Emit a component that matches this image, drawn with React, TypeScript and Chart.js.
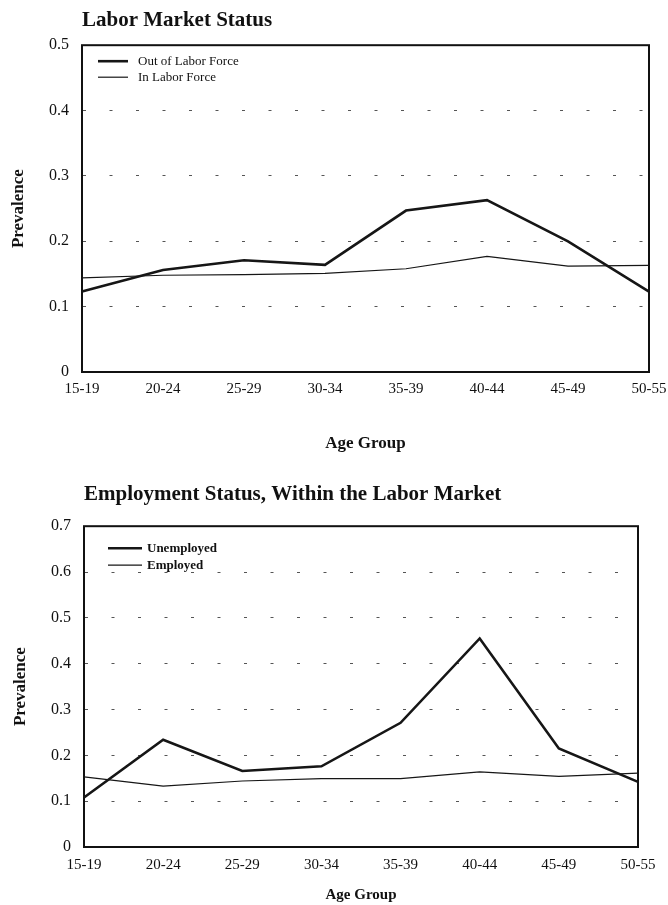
import React, { useEffect, useRef } from "react";
import { Chart, registerables } from "chart.js";

Chart.register(...registerables);

// ---------- data ----------
const ageGroups = ["15-19", "20-24", "25-29", "30-34", "35-39", "40-44", "45-49", "50-55"];

const outOfLaborForce = [0.123, 0.156, 0.171, 0.164, 0.247, 0.263, 0.2, 0.123];
const inLaborForce = [0.144, 0.148, 0.149, 0.151, 0.158, 0.177, 0.162, 0.163];

const unemployed = [0.108, 0.234, 0.166, 0.176, 0.271, 0.455, 0.215, 0.142];
const employed = [0.153, 0.133, 0.144, 0.149, 0.149, 0.164, 0.154, 0.161];

const chart1Title = "Labor Market Status";
const chart2Title = "Employment Status, Within the Labor Market";
const xTitle = "Age Group";
const yTitle = "Prevalence";
const chart1Labels = ["Out of Labor Force", "In Labor Force"];
const chart2Labels = ["Unemployed", "Employed"];
const chart1Max = 0.5;
const chart2Max = 0.7;

const SERIF = "'Liberation Serif', 'DejaVu Serif', serif";

// ---------- plugins ----------
const boxPlugin = {
  id: "plotBox",
  beforeDatasetsDraw(chart: any) {
    const { ctx, chartArea } = chart;
    ctx.save();
    ctx.strokeStyle = "#111";
    ctx.lineWidth = 2;
    ctx.strokeRect(chartArea.left, chartArea.top, chartArea.right - chartArea.left, chartArea.bottom - chartArea.top);
    ctx.restore();
  },
};

const insideLegendPlugin = {
  id: "insideLegend",
  afterDatasetsDraw(chart: any, _args: any, opts: any) {
    const { ctx, chartArea } = chart;
    ctx.save();
    chart.data.datasets.forEach((ds: any, i: number) => {
      const y = chartArea.top + opts.y + i * opts.row;
      const x0 = chartArea.left + opts.x;
      ctx.strokeStyle = ds.borderColor;
      ctx.lineWidth = ds.borderWidth;
      ctx.beginPath();
      ctx.moveTo(x0, y);
      ctx.lineTo(x0 + opts.len, y);
      ctx.stroke();
      ctx.fillStyle = "#111";
      ctx.font = opts.font;
      ctx.textBaseline = "middle";
      ctx.textAlign = "left";
      ctx.fillText(ds.label, x0 + opts.len + opts.gap, y);
    });
    ctx.restore();
  },
};

type Cfg = {
  title: string;
  labels: string[];
  series: number[][];
  max: number;
  height: number;
  titlePad: { top: number; bottom: number };
  rightPad: number;
  yWidth: number;
  xHeight: number;
  xTickSize: number;
  xTickPad: number;
  xTitleSize: number;
  xTitlePadBottom: number;
  yTitlePadTop: number;
  legend: any;
};

function LineBox({ cfg, top }: { cfg: Cfg; top: number }) {
  const ref = useRef<HTMLCanvasElement | null>(null);
  useEffect(() => {
    if (!ref.current) return;
    const widths = [2.6, 1.2];
    const chart = new Chart(ref.current, {
      type: "line",
      data: {
        labels: ageGroups,
        datasets: cfg.series.map((s, i) => ({
          label: cfg.labels[i],
          data: s,
          borderColor: "#161616",
          backgroundColor: "#161616",
          borderWidth: widths[i],
          pointRadius: 0,
          tension: 0,
          fill: false,
        })),
      },
      options: {
        responsive: false,
        animation: false,
        layout: { padding: { left: 0, right: cfg.rightPad, top: 0, bottom: 0 } },
        plugins: {
          legend: { display: false },
          tooltip: { enabled: false },
          title: {
            display: true,
            text: cfg.title,
            align: "start",
            fullSize: false,
            color: "#111",
            font: { family: SERIF, size: 21, weight: "bold", lineHeight: 1.2 },
            padding: cfg.titlePad,
          },
          insideLegend: cfg.legend,
        } as any,
        scales: {
          x: {
            type: "category",
            offset: false,
            grid: { display: false, drawTicks: false },
            border: { display: false },
            ticks: {
              color: "#111",
              padding: cfg.xTickPad,
              maxRotation: 0,
              autoSkip: false,
              font: { family: SERIF, size: cfg.xTickSize },
            },
            title: {
              display: true,
              text: xTitle,
              color: "#111",
              font: { family: SERIF, size: cfg.xTitleSize, weight: "bold", lineHeight: 1.2 },
              padding: { top: 0, bottom: cfg.xTitlePadBottom },
            },
            afterFit: (scale: any) => {
              scale.height = cfg.xHeight;
              scale.paddingRight = 0;
              scale.paddingLeft = 0;
            },
          },
          y: {
            min: 0,
            max: cfg.max,
            grid: {
              color: "#555",
              lineWidth: 1,
              drawTicks: false,
            },
            border: { display: false, dash: [3, 23.5], dashOffset: -1 },
            ticks: {
              stepSize: 0.1,
              color: "#111",
              padding: 13,
              font: { family: SERIF, size: 16 },
              callback: (v: any) => String(Number(Number(v).toFixed(1))),
            },
            title: {
              display: true,
              text: yTitle,
              color: "#111",
              font: { family: SERIF, size: 17, weight: "bold", lineHeight: 1.2 },
              padding: { top: cfg.yTitlePadTop, bottom: 0 },
            },
            afterFit: (scale: any) => {
              scale.width = cfg.yWidth;
            },
          },
        },
      } as any,
      plugins: [boxPlugin, insideLegendPlugin],
    });
    return () => chart.destroy();
  }, [cfg]);
  return (
    <canvas
      ref={ref}
      width={668}
      height={cfg.height}
      style={{ position: "absolute", left: 0, top, width: 668, height: cfg.height, display: "block" }}
    />
  );
}

const cfg1: Cfg = {
  title: chart1Title,
  labels: chart1Labels,
  series: [outOfLaborForce, inLaborForce],
  max: chart1Max,
  height: 455,
  titlePad: { top: 8, bottom: 12 },
  rightPad: 19,
  yWidth: 82,
  xHeight: 83,
  xTickSize: 15,
  xTickPad: 8,
  xTitleSize: 17,
  xTitlePadBottom: 1,
  yTitlePadTop: 8,
  legend: { x: 16, y: 16, row: 16, len: 30, gap: 10, font: `13px ${SERIF}` },
};

const cfg2: Cfg = {
  title: chart2Title,
  labels: chart2Labels,
  series: [unemployed, employed],
  max: chart2Max,
  height: 445,
  titlePad: { top: 22, bottom: 19 },
  rightPad: 30,
  yWidth: 84,
  xHeight: 58,
  xTickSize: 15,
  xTickPad: 9,
  xTitleSize: 15,
  xTitlePadBottom: 1,
  yTitlePadTop: 10,
  legend: { x: 24, y: 22, row: 17, len: 34, gap: 5, font: `bold 13px ${SERIF}` },
};

export default function App() {
  return (
    <div style={{ position: "absolute", left: 0, top: 0, width: 668, height: 905, background: "#fff", overflow: "hidden" }}>
      <LineBox cfg={cfg1} top={0} />
      <LineBox cfg={cfg2} top={460} />
    </div>
  );
}
